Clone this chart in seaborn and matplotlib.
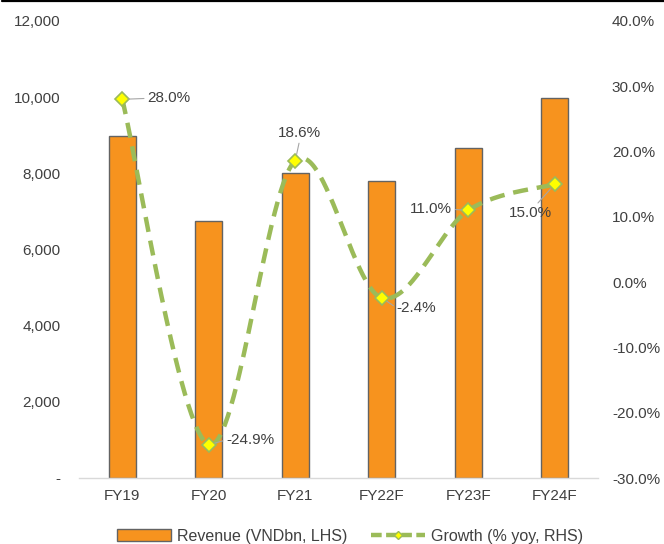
import numpy as np
import pandas as pd
import matplotlib
matplotlib.use("Agg")
import matplotlib.pyplot as plt
from matplotlib.patches import Patch
from matplotlib.lines import Line2D
from matplotlib.ticker import FuncFormatter
import seaborn as sns

# Revenue and yoy growth
years = ["FY19", "FY20", "FY21", "FY22F", "FY23F", "FY24F"]
revenue = [8980, 6745, 8000, 7808, 8667, 9967]
growth = [28.0, -24.9, 18.6, -2.4, 11.0, 15.0]
growth_labels = ["28.0%", "-24.9%", "18.6%", "-2.4%", "11.0%", "15.0%"]

# label placement: (dx, dy) in points, horizontal alignment, leader relpos
label_pos = [
    ((18, 0.7), "left", (0, 0.5)),
    ((12.5, 3.4), "left", (0, 0.5)),
    ((3.2, 20), "center", (0.5, 0)),
    ((10.8, -7.3), "left", (0, 0.5)),
    ((-11.5, 0.7), "right", (1, 0.5)),
    ((-17.3, -20.9), "center", (0.6, 1)),
]

ORANGE = "#F7931E"
EDGE = "#636363"
GREEN = "#9BBB59"
YELLOW = "#FFFF00"
TEXT = "#404040"

sns.set_style("white")
plt.rcParams["font.family"] = ["Liberation Sans", "DejaVu Sans"]
plt.rcParams["text.color"] = TEXT

df = pd.DataFrame({"year": years, "revenue": revenue, "growth": growth})

fig = plt.figure(figsize=(6.64, 5.44), dpi=100)
ax = fig.add_axes([0.119, 0.1213, 0.7816, 0.8401])

sns.barplot(data=df, x="year", y="revenue", color=ORANGE, edgecolor=EDGE,
            linewidth=1.0, width=0.315, saturation=1, ax=ax)
ax.set_ylim(0, 12000)
ax.set_xlim(-0.5, len(years) - 0.5)
ax.set_yticks(np.arange(0, 12001, 2000))
ax.yaxis.set_major_formatter(FuncFormatter(lambda v, p: "-" if v == 0 else f"{v:,.0f}"))
ax.set_xlabel("")
ax.set_ylabel("")
for s in ["top", "left", "right"]:
    ax.spines[s].set_visible(False)
ax.spines["bottom"].set_color("#D9D9D9")
ax.spines["bottom"].set_linewidth(1.0)
ax.tick_params(axis="y", length=0, pad=13.5, labelsize=11, labelcolor=TEXT)
ax.tick_params(axis="x", length=0, pad=8, labelsize=11, labelcolor=TEXT)

ax2 = ax.twinx()
ax2.set_ylim(-30, 40)
ax2.set_yticks(np.arange(-30, 41, 10))
ax2.yaxis.set_major_formatter(FuncFormatter(lambda v, p: f"{v:.1f}%"))
for s in ["top", "left", "right", "bottom"]:
    ax2.spines[s].set_visible(False)
ax2.tick_params(axis="y", length=0, pad=10, labelsize=11, labelcolor=TEXT)

# smoothed growth curve (cubic Bezier segments, Catmull-Rom style tangents)
xs = np.arange(len(growth), dtype=float)
ys = np.array(growth, dtype=float)
pts = np.column_stack([xs, ys])
curve = []
t = np.linspace(0, 1, 60)
for i in range(len(pts) - 1):
    p0 = pts[i]
    p3 = pts[i + 1]
    prev = pts[i - 1] if i > 0 else pts[i]
    nxt = pts[i + 2] if i + 2 < len(pts) else pts[i + 1]
    p1 = p0 + (p3 - prev) / 6.0
    p2 = p3 - (nxt - p0) / 6.0
    seg = ((1 - t)[:, None] ** 3 * p0 + 3 * (1 - t)[:, None] ** 2 * t[:, None] * p1
           + 3 * (1 - t)[:, None] * t[:, None] ** 2 * p2 + t[:, None] ** 3 * p3)
    curve.append(seg if i == 0 else seg[1:])
curve = np.vstack(curve)
ax2.plot(curve[:, 0], curve[:, 1], color=GREEN, lw=3.2, dashes=(3.4, 2.0),
         dash_capstyle="butt", zorder=3)
ax2.plot(xs, ys, linestyle="none", marker="D", markersize=6.8,
         markerfacecolor=YELLOW, markeredgecolor=GREEN, markeredgewidth=1.2, zorder=4)

for i, (lab, (off, ha, rp)) in enumerate(zip(growth_labels, label_pos)):
    ax2.annotate(lab, xy=(i, growth[i]), xytext=off, textcoords="offset points",
                 ha=ha, va="center", fontsize=11, color=TEXT, zorder=5,
                 arrowprops=dict(arrowstyle="-", color="#A6A6A6", lw=0.8,
                                 relpos=rp, shrinkA=0, shrinkB=4.5))

handles = [
    Patch(facecolor=ORANGE, edgecolor=EDGE, linewidth=1.0),
    Line2D([0], [0], color=GREEN, lw=3.2, dashes=(2.4, 1.0), marker="D",
           markersize=4, markerfacecolor=YELLOW, markeredgecolor=GREEN),
]
fig.legend(handles, ["Revenue (VNDbn, LHS)", "Growth (% yoy, RHS)"],
           loc="center", bbox_to_anchor=(0.527, 0.0147), ncol=2, frameon=False,
           fontsize=11.5, handlelength=3.4, handleheight=0.75, handletextpad=0.35,
           columnspacing=1.5, labelcolor=TEXT)

# thin rule along the top edge
fig.add_artist(Line2D([0.003, 1.0], [0.9985, 0.9985], transform=fig.transFigure,
                      color="black", lw=1.6))

fig.savefig("out.png", dpi=100, facecolor="white")
